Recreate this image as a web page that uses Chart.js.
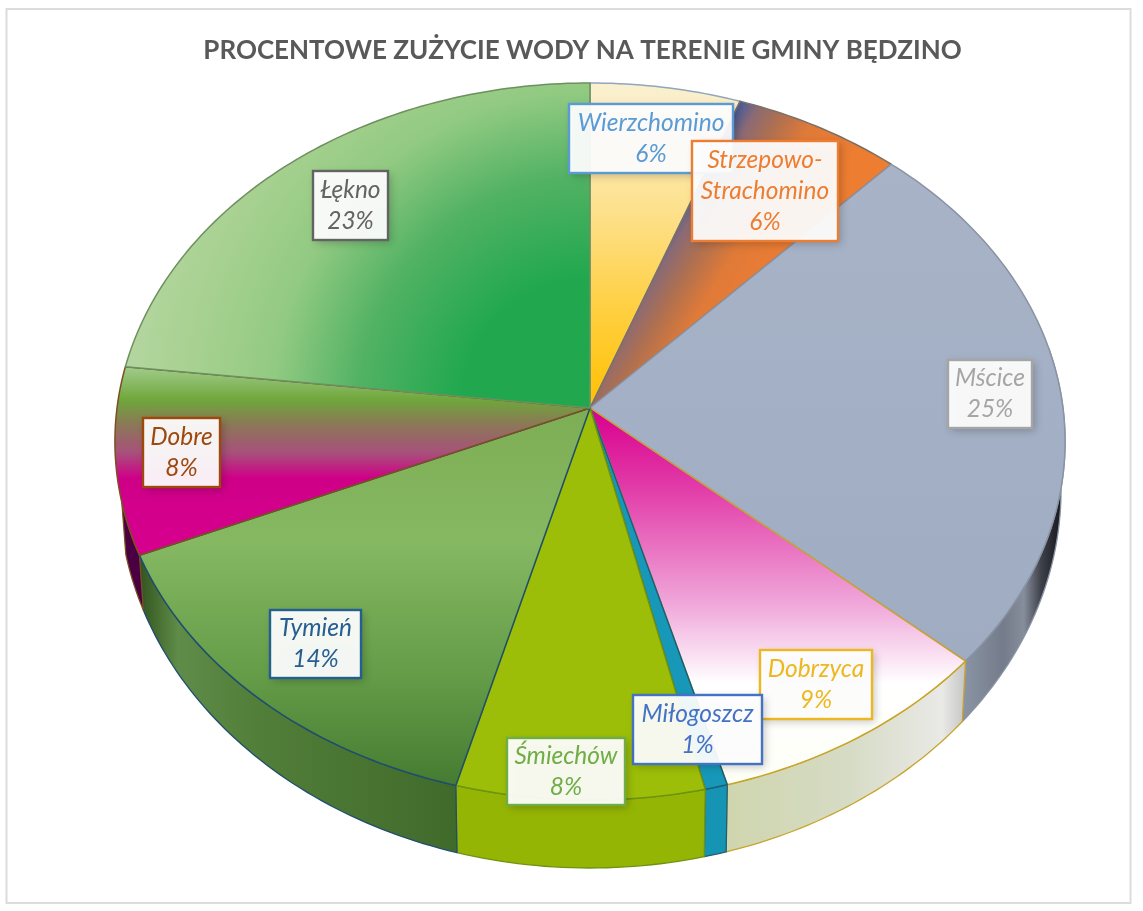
<!DOCTYPE html>
<html lang="pl">
<head>
<meta charset="utf-8">
<title>Procentowe zużycie wody</title>
<script src="https://cdn.jsdelivr.net/npm/chart.js@4"></script>
<style>
html,body{margin:0;padding:0;background:#fff}
canvas{display:block}
</style>
</head>
<body>
<canvas id="c" width="1143" height="911"></canvas>
<script>
// ---- data ----
const chartTitle = 'PROCENTOWE ZUŻYCIE WODY NA TERENIE GMINY BĘDZINO';
const categories = ['Wierzchomino','Strzepowo-Strachomino','Mścice','Dobrzyca','Miłogoszcz','Śmiechów','Tymień','Dobre','Łękno'];
const labelLines = [['Wierzchomino'],['Strzepowo-','Strachomino'],['Mścice'],['Dobrzyca'],['Miłogoszcz'],['Śmiechów'],['Tymień'],['Dobre'],['Łękno']];
const waterShare = [5.6, 6.3, 24.7, 9.1, 0.7, 7.7, 14.3, 8.4, 23.1];

// ---- styles ----
const textColors = ['#5B9BD5','#ED7D31','#A5A5A5','#EDB81F','#4472C4','#70AD47','#255E91','#9E480E','#636363'];
const edgeColors = ['#8FA6BC','#7C6F66','#8A93A3','#C9A42A','#1E5F73','#6F9310','#1F4E6E','#7A4F22','#6E8F5E'];
const labelBoxes = [[569,104,164,69],[692,141,146,100],[948,360,84,68],[760,650,112,69],[633,695,129,69],[507,738,118,67],[270,610,91,68],[143,418,77,69],[313,171,75,69]];

// perspective of the top face and of the bottom rim
const topFace = {cx:590, cy:408, a:473, b:355.4, k:-0.0934};
const botFace = {cx:590, cy:454.7, a:469, b:374.7, k:-0.0934};
const project = (f,t) => {
  const X = Math.sin(t), Y = -Math.cos(t), d = 1 + f.k*Y;
  return [f.cx + f.a*X/d, f.cy + f.b*Y/d];
};
const arcPoints = (f,t0,t1) => {
  const n = Math.max(2, Math.ceil((t1-t0)/(Math.PI/180)));
  const pts = [];
  for (let i=0;i<=n;i++) pts.push(project(f, t0+(t1-t0)*i/n));
  return pts;
};
const stops = (g,list) => { list.forEach(([o,c])=>g.addColorStop(o,c)); return g; };

function topFill(ctx,i){
  const v = (y0,y1,l)=>stops(ctx.createLinearGradient(0,y0,0,y1),l);
  switch(i){
    case 0: return v(84,410,[[0,'#FAF0D0'],[.12,'#FBEDBE'],[.4,'#FDE08A'],[.7,'#FFCF3F'],[1,'#FFC000']]);
    case 1: return stops(ctx.createLinearGradient(729,101.5,846.6,172),[[0,'#2F55A8'],[.08,'#4A5C98'],[.2,'#8A6A74'],[.38,'#B0704F'],[.6,'#E07A38'],[1,'#ED7D31']]);
    case 2: return v(160,660,[[0,'#A8B3C7'],[1,'#9FACC2']]);
    case 3: return v(410,800,[[0,'#D9008F'],[.2,'#E23CA8'],[.5,'#F0A8DA'],[.7,'#FFFFFF'],[1,'#FDFEF4']]);
    case 4: return '#1798B8';
    case 5: return '#9CBE08';
    case 6: return v(408,790,[[0,'#7DAE55'],[.35,'#86B862'],[.7,'#649C48'],[1,'#447A30']]);
    case 7: return v(365,560,[[0,'#A4CE90'],[.18,'#6FA63A'],[.3,'#8A7A55'],[.45,'#A8507A'],[.58,'#CF0088'],[1,'#D8008F']]);
    case 8: return stops(ctx.createRadialGradient(590,408,130,590,408,470),[[0,'#21A84E'],[.3,'#52B264'],[.55,'#92CA82'],[.8,'#A8D191'],[1,'#B4D6A0']]);
  }
}
function wallFill(ctx,i){
  const h = (x0,x1,l)=>stops(ctx.createLinearGradient(x0,0,x1,0),l);
  switch(i){
    case 2: return h(965,1060,[[0,'#8A93A3'],[.4,'#747C8B'],[.62,'#868D9B'],[.8,'#3E4149'],[1,'#1A1A20']]);
    case 3: return h(727,966,[[0,'#CFD6AE'],[.5,'#D6DBC4'],[.9,'#E9E9E6'],[1,'#C4C4C4']]);
    case 4: return '#1595B3';
    case 5: return '#95B505';
    case 6: return h(140,458,[[0,'#33551F'],[.12,'#5F8C48'],[.35,'#527F3A'],[1,'#406A2A']]);
    case 7: return '#4A0040';
    default: return '#888888';
  }
}
function poly(ctx,pts){
  ctx.beginPath();
  pts.forEach((p,i)=> i ? ctx.lineTo(p[0],p[1]) : ctx.moveTo(p[0],p[1]));
  ctx.closePath();
}
function drawLabels(chart){
  const ctx = chart.ctx;
  ctx.save();
  ctx.font='italic 24.5px Lato, Carlito, sans-serif';
  ctx.textAlign='center'; ctx.textBaseline='middle';
  categories.forEach((_,i)=>{
    const [x,y,w,h] = labelBoxes[i];
    ctx.save();
    ctx.shadowColor='rgba(0,0,0,.4)'; ctx.shadowBlur=8; ctx.shadowOffsetX=3; ctx.shadowOffsetY=3;
    ctx.fillStyle='#fff'; ctx.globalAlpha=.55; ctx.fillRect(x,y,w,h);
    ctx.restore();
    ctx.fillStyle='rgba(255,255,255,.85)'; ctx.fillRect(x,y,w,h);
    ctx.strokeStyle=textColors[i]; ctx.lineWidth=2.4; ctx.strokeRect(x,y,w,h);
    const lines = labelLines[i].concat([Math.round(waterShare[i])+'%']);
    const lh=31, y0=y+h/2-(lines.length-1)*lh/2;
    ctx.fillStyle=textColors[i];
    lines.forEach((t,j)=>ctx.fillText(t,x+w/2,y0+j*lh));
  });
  ctx.restore();
}

const pie3d = {
  id:'pie3d',
  beforeDraw(chart){
    const ctx = chart.ctx;
    ctx.save();
    ctx.fillStyle='#fff'; ctx.fillRect(0,0,chart.width,chart.height);
    ctx.strokeStyle='#DCDCDC'; ctx.lineWidth=2;
    ctx.strokeRect(6.5,9,1124,894);
    ctx.restore();
  },
  beforeDatasetsDraw(chart){
    const ctx = chart.ctx;
    const arcs = chart.getDatasetMeta(0).data;
    const span = arcs.map(el=>[el.startAngle+Math.PI/2, el.endAngle+Math.PI/2]);
    ctx.save();
    ctx.lineJoin='round';
    // side wall
    const vis0 = 1.4, vis1 = 4.45;
    span.forEach(([t0,t1],i)=>{
      const a = Math.max(t0,vis0), b = Math.min(t1,vis1);
      if (b<=a) return;
      const up = arcPoints(topFace,a,b), lo = arcPoints(botFace,a,b).reverse();
      poly(ctx,up.concat(lo));
      ctx.fillStyle = wallFill(ctx,i); ctx.fill();
      ctx.strokeStyle = edgeColors[i]; ctx.lineWidth=1.3; ctx.stroke();
    });
    // top face
    span.forEach(([t0,t1],i)=>{
      const pts = [[topFace.cx,topFace.cy]].concat(arcPoints(topFace,t0,t1));
      poly(ctx,pts);
      ctx.fillStyle = topFill(ctx,i); ctx.fill();
      ctx.strokeStyle = edgeColors[i]; ctx.lineWidth=1.5; ctx.stroke();
    });
    ctx.restore();
    return false; // the slices above replace the flat arcs
  },
  afterDraw(chart){ drawLabels(chart); }
};

new Chart(document.getElementById('c'),{
  type:'pie',
  data:{labels:categories,datasets:[{data:waterShare,borderWidth:0,backgroundColor:textColors}]},
  plugins:[pie3d],
  options:{
    responsive:false,
    animation:false,
    layout:{padding:{left:22,top:0}},
    plugins:{
      legend:{display:false},
      tooltip:{enabled:false},
      title:{display:true,text:chartTitle,color:'#595959',
        font:{family:'Lato, Carlito, sans-serif',size:26,weight:'bold'},
        padding:{top:35,bottom:10}}
    }
  }
});
</script>
</body>
</html>
